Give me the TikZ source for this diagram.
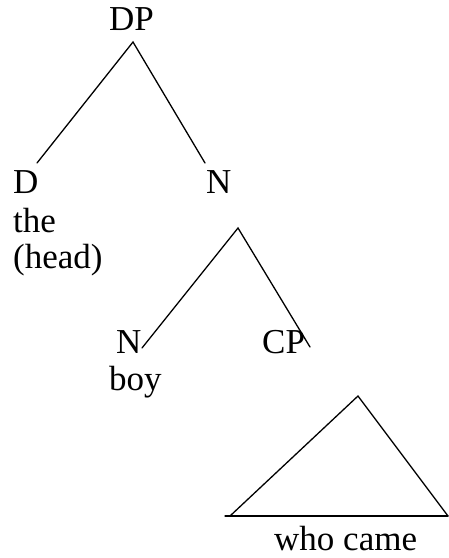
\documentclass[tikz,border=0pt]{standalone}
\usepackage{fontspec}
\setmainfont{Liberation Serif}
\usepackage{tikz}
\newcommand\catfont{\fontsize{35}{42}\selectfont}
\tikzset{
  cat/.style={anchor=base west,inner sep=0pt,font=\catfont},
  branch/.style={line width=1.3pt,line cap=round}
}
\begin{document}
\begin{tikzpicture}[x=1pt,y=-1pt]
  \useasboundingbox (0,0) rectangle (449,558);
  % labels
  \node[cat] (dp) at (109,30) {DP};
  \node[cat] (d) at (13,193) {D};
  \node[cat] (the) at (13,232) {the};
  \node[cat] (head) at (13,268) {(head)};
  \node[cat] (n) at (206,193) {N};
  \node[cat] (nlow) at (116,353) {N};
  \node[cat] (boy) at (109,390) {boy};
  \node[cat] (cp) at (262,353) {CP};
  \node[cat] (who) at (274,550) {who came};
  % branch points
  \coordinate (dptop) at (133,42);
  \coordinate (dend) at (37,163);
  \coordinate (nend) at (205,163);
  \coordinate (ntop) at (238,228);
  \coordinate (nlowend) at (142,348);
  \coordinate (cpend) at (310,347);
  \coordinate (tritop) at (358,396);
  \coordinate (trileft) at (230,516);
  \coordinate (triright) at (448,516);
  \coordinate (baseleft) at (225,516);
  \draw[branch] (dend) -- (dptop) -- (nend);
  \draw[branch] (nlowend) -- (ntop) -- (cpend);
  \draw[branch] (trileft) -- (tritop) -- (triright);
  \draw[branch] (baseleft) -- (triright);
\end{tikzpicture}
\end{document}
